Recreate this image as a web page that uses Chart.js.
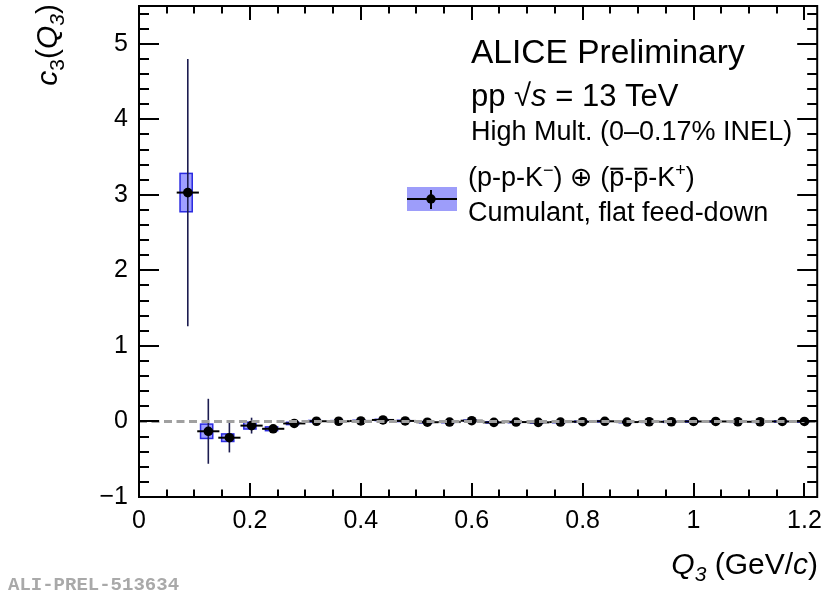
<!DOCTYPE html>
<html><head><meta charset="utf-8">
<script src="https://cdn.jsdelivr.net/npm/chart.js@4/dist/chart.umd.min.js"></script>
<style>html,body{margin:0;padding:0;background:#fff}#wrap{width:822px;height:596px;position:relative}</style>
</head><body><div id="wrap"><canvas id="c" width="822" height="596"></canvas></div>
<script>
// ---- data ----
const q3Values   = [0.088, 0.125, 0.163, 0.203, 0.242, 0.28, 0.32, 0.36, 0.40, 0.44, 0.48, 0.52, 0.56, 0.60, 0.64, 0.68, 0.72, 0.76, 0.80, 0.84, 0.88, 0.92, 0.96, 1.00, 1.04, 1.08, 1.12, 1.16, 1.20];
const c3Values   = [3.03, -0.13, -0.215, -0.055, -0.097, -0.026, 0.003, 0.003, 0.007, 0.02, 0.007, -0.01, -0.008, 0.01, -0.012, -0.008, -0.012, -0.008, -0.003, 0.002, -0.008, -0.004, -0.004, 0.0, 0.0, -0.004, -0.004, 0.0, 0.0];
const statErrors = [1.77, 0.43, 0.195, 0.105, 0.035, 0.02, 0.012, 0.01, 0.01, 0.01, 0.01, 0.01, 0.01, 0.01, 0.01, 0.01, 0.01, 0.01, 0.01, 0.01, 0.01, 0.01, 0.01, 0.01, 0.01, 0.01, 0.01, 0.01, 0.01];
const sysErrors  = [0.254, 0.095, 0.05, 0.045, 0.025, 0.015, 0.01, 0.008, 0.008, 0.008, 0.008, 0.008, 0.008, 0.008, 0.008, 0.008, 0.008, 0.008, 0.008, 0.008, 0.008, 0.008, 0.008, 0.008, 0.008, 0.008, 0.008, 0.008, 0.008];
const q3BinHalfWidth = 0.02;
const zeroLineX = [0, 1.2];
const xTickValues = [0, 0.2, 0.4, 0.6, 0.8, 1.0, 1.2];
const xTickLabels = ['0', '0.2', '0.4', '0.6', '0.8', '1', '1.2'];
const yTickValues = [-1, 0, 1, 2, 3, 4, 5];
const yTickLabels = ['\u22121', '0', '1', '2', '3', '4', '5'];

const FONT = "'Liberation Sans', Arial, Helvetica, 'DejaVu Sans', sans-serif";
const SYS_HALF_W = 0.011;

function drawRich(ctx, x, y, segs, align) {
  let total = 0;
  segs.forEach(s => {
    ctx.font = (s.italic ? 'italic ' : '') + s.size + 'px ' + FONT;
    s.w = ctx.measureText(s.t).width;
    total += s.w + (s.gap || 0);
  });
  let cx = align === 'right' ? x - total : x;
  ctx.textAlign = 'left';
  ctx.textBaseline = 'alphabetic';
  segs.forEach(s => {
    ctx.font = (s.italic ? 'italic ' : '') + s.size + 'px ' + FONT;
    ctx.fillText(s.t, cx, y + (s.dy || 0));
    if (s.over) {
      ctx.save();
      ctx.lineWidth = 2;
      ctx.strokeStyle = '#000';
      ctx.beginPath();
      const oy = y - s.size * 0.64;
      ctx.moveTo(cx + s.w * 0.08, oy);
      ctx.lineTo(cx + s.w * 0.95, oy);
      ctx.stroke();
      ctx.restore();
    }
    cx += s.w + (s.gap || 0);
  });
}

const decor = {
  id: 'decor',
  beforeDatasetsDraw(chart) {
    const ctx = chart.ctx, xs = chart.scales.x, ys = chart.scales.y;
    ctx.save();
    for (let i = 0; i < q3Values.length; i++) {
      const x0 = xs.getPixelForValue(q3Values[i] - SYS_HALF_W - 0.003);
      const x1 = xs.getPixelForValue(q3Values[i] + SYS_HALF_W - 0.003);
      const y0 = ys.getPixelForValue(c3Values[i] + sysErrors[i]);
      const y1 = ys.getPixelForValue(c3Values[i] - sysErrors[i]);
      ctx.fillStyle = 'rgba(80,80,255,0.55)';
      ctx.fillRect(x0, y0, x1 - x0, y1 - y0);
      ctx.strokeStyle = '#2a2ae0';
      ctx.lineWidth = 1.5;
      ctx.strokeRect(x0, y0, x1 - x0, y1 - y0);
    }
    for (let i = 0; i < q3Values.length; i++) {
      const px = xs.getPixelForValue(q3Values[i]);
      const py = ys.getPixelForValue(c3Values[i]);
      ctx.strokeStyle = '#1c1c50';
      ctx.lineWidth = 1.6;
      ctx.beginPath();
      ctx.moveTo(px, ys.getPixelForValue(c3Values[i] + statErrors[i]));
      ctx.lineTo(px, ys.getPixelForValue(c3Values[i] - statErrors[i]));
      ctx.stroke();
      ctx.strokeStyle = '#000';
      ctx.lineWidth = 2;
      ctx.beginPath();
      ctx.moveTo(xs.getPixelForValue(q3Values[i] - q3BinHalfWidth), py);
      ctx.lineTo(xs.getPixelForValue(q3Values[i] + q3BinHalfWidth), py);
      ctx.stroke();
    }
    ctx.restore();
  },
  afterDraw(chart) {
    const ctx = chart.ctx, xs = chart.scales.x, ys = chart.scales.y;
    const a = chart.chartArea;
    ctx.save();
    ctx.strokeStyle = '#000';
    ctx.lineWidth = 2;
    ctx.strokeRect(a.left, a.top, a.right - a.left, a.bottom - a.top);
    ctx.beginPath();
    for (let k = 0; k <= 24; k++) {
      const v = k * 0.05;
      const px = Math.round(xs.getPixelForValue(v));
      const len = (k % 4 === 0) ? 14 : 7.5;
      ctx.moveTo(px, a.bottom); ctx.lineTo(px, a.bottom - len);
      ctx.moveTo(px, a.top); ctx.lineTo(px, a.top + len);
    }
    for (let k = 0; k <= 32; k++) {
      const v = -1 + k * 0.2;
      const py = Math.round(ys.getPixelForValue(v));
      const len = (k % 5 === 0) ? 20 : 10;
      ctx.moveTo(a.left, py); ctx.lineTo(a.left + len, py);
      ctx.moveTo(a.right, py); ctx.lineTo(a.right - len, py);
    }
    ctx.stroke();

    ctx.fillStyle = '#000';
    drawRich(ctx, 471, 63, [{t: 'ALICE Preliminary', size: 33.5}]);
    drawRich(ctx, 471, 106, [{t: 'pp ', size: 31}, {t: '\u221A', size: 31}, {t: 's', size: 31, italic: true}, {t: ' = 13 TeV', size: 31}]);
    drawRich(ctx, 471, 140, [{t: 'High Mult. (0\u20130.17% INEL)', size: 27}]);

    ctx.fillStyle = '#9d9dfa';
    ctx.fillRect(407, 187, 50, 24);
    ctx.strokeStyle = '#000';
    ctx.lineWidth = 2;
    ctx.beginPath();
    ctx.moveTo(407, 199); ctx.lineTo(457, 199);
    ctx.moveTo(431, 190); ctx.lineTo(431, 209);
    ctx.stroke();
    ctx.fillStyle = '#000';
    ctx.beginPath(); ctx.arc(431, 199, 4.7, 0, Math.PI * 2); ctx.fill();

    drawRich(ctx, 468, 186, [
      {t: '(p-p-K', size: 27}, {t: '\u2212', size: 18, dy: -10},
      {t: ') \u2295 (', size: 27},
      {t: 'p', size: 27, over: true}, {t: '-', size: 27},
      {t: 'p', size: 27, over: true}, {t: '-K', size: 27},
      {t: '+', size: 18, dy: -10}, {t: ')', size: 27}
    ]);
    drawRich(ctx, 468, 221, [{t: 'Cumulant, flat feed-down', size: 27}]);

    drawRich(ctx, 818, 574, [
      {t: 'Q', size: 30, italic: true}, {t: '3', size: 21, italic: true, dy: 7},
      {t: ' (GeV/', size: 30}, {t: 'c', size: 30, italic: true}, {t: ')', size: 30}
    ], 'right');

    ctx.save();
    ctx.translate(57, 4);
    ctx.rotate(-Math.PI / 2);
    drawRich(ctx, 0, 0, [
      {t: 'c', size: 30, italic: true}, {t: '3', size: 21, dy: 7},
      {t: '(', size: 30}, {t: 'Q', size: 30, italic: true}, {t: '3', size: 21, italic: true, dy: 7},
      {t: ')', size: 30}
    ], 'right');
    ctx.restore();

    ctx.fillStyle = '#a9a9a9';
    ctx.font = "bold 19px 'Liberation Mono', 'DejaVu Sans Mono', monospace";
    ctx.textAlign = 'left';
    ctx.textBaseline = 'alphabetic';
    ctx.fillText('ALI-PREL-513634', 8, 590);
    ctx.restore();
  }
};

new Chart(document.getElementById('c').getContext('2d'), {
  type: 'scatter',
  data: {
    datasets: [
      {
        type: 'line',
        data: zeroLineX.map(x => ({x: x, y: 0})),
        borderColor: '#a0a0a0', borderWidth: 3, borderDash: [8, 4.5],
        pointRadius: 0, fill: false, order: 0
      },
      {
        data: q3Values.map((x, i) => ({x: x, y: c3Values[i]})),
        pointRadius: 4.8, pointStyle: 'circle',
        backgroundColor: '#000', borderColor: '#000', borderWidth: 0,
        showLine: false, order: 1
      }
    ]
  },
  options: {
    responsive: false, animation: false, devicePixelRatio: 1,
    layout: {padding: {top: 6, right: 4, left: 0, bottom: 0}},
    plugins: {legend: {display: false}, tooltip: {enabled: false}},
    scales: {
      x: {
        type: 'linear', min: 0, max: 1.223,
        afterBuildTicks: s => { s.ticks = xTickValues.map(v => ({value: v})); },
        afterFit: s => { s.height = 99; s.paddingLeft = 0; s.paddingRight = 0; },
        grid: {display: false, drawTicks: false}, border: {display: false},
        ticks: {font: {family: FONT, size: 25}, color: '#000', padding: 9, maxRotation: 0, autoSkip: false,
                callback: (v, i) => xTickLabels[i]}
      },
      y: {
        type: 'linear', min: -1, max: 5.5,
        afterBuildTicks: s => { s.ticks = yTickValues.map(v => ({value: v})); },
        afterFit: s => { s.width = 139; s.paddingTop = 0; s.paddingBottom = 0; },
        grid: {display: false, drawTicks: false}, border: {display: false},
        ticks: {font: {family: FONT, size: 25}, color: '#000', padding: 11, autoSkip: false,
                callback: (v, i) => yTickLabels[i]}
      }
    }
  },
  plugins: [decor]
});
</script>
</body></html>
